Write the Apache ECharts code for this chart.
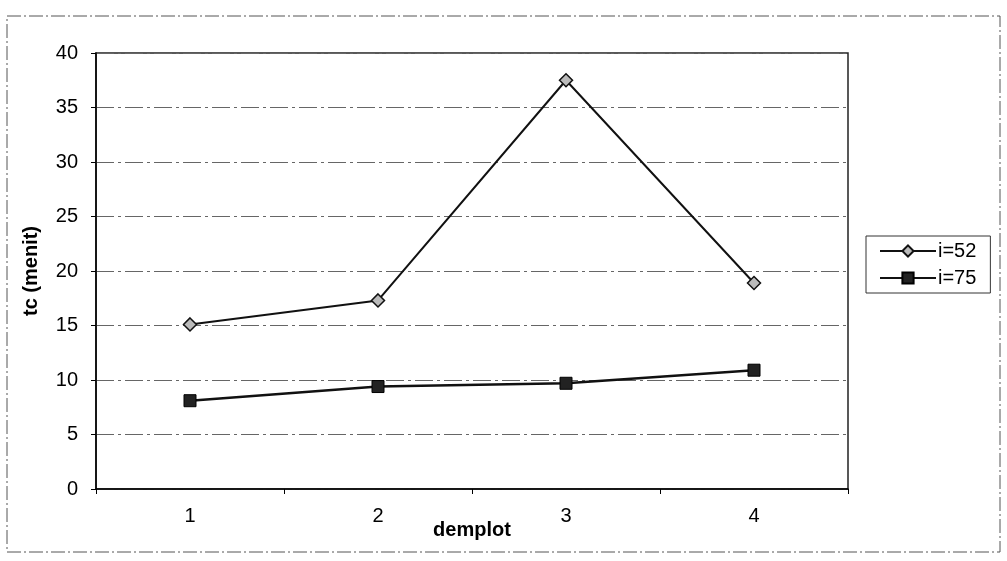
<!DOCTYPE html>
<html>
<head>
<meta charset="utf-8">
<script src="https://cdn.jsdelivr.net/npm/echarts@6/dist/echarts.min.js"></script>
<style>
  html, body { margin: 0; padding: 0; background: #fff; }
  #chart { width: 1007px; height: 561px; }
</style>
</head>
<body>
<div id="chart"></div>
<script>
// Plot categories (demplot number) and time of concentration tc (minutes)
const categories = ['1', '2', '3', '4'];
const seriesI52 = [15.1, 17.3, 37.5, 18.9];
const seriesI75 = [8.1, 9.4, 9.7, 10.9];
const yTicks = { min: 0, max: 40, interval: 5 };

const FONT = '"Liberation Sans", Arial, sans-serif';

const chart = echarts.init(document.getElementById('chart'));
chart.setOption({
  backgroundColor: '#ffffff',
  animation: false,
  textStyle: { fontFamily: FONT, color: '#000' },
  graphic: [
    {
      // outer chart frame
      type: 'rect',
      shape: { x: 7, y: 16, width: 993, height: 536 },
      style: { fill: 'none', stroke: '#555', lineWidth: 1, lineDash: [14, 3, 2, 3] },
      silent: true
    }
  ],
  grid: {
    left: 96, right: 159, top: 53, bottom: 72,
    show: true, borderColor: '#222', borderWidth: 1.5, backgroundColor: 'transparent'
  },
  legend: {
    orient: 'vertical',
    left: 866, top: 236,
    itemWidth: 56, itemHeight: 14, itemGap: 7,
    padding: [5, 14, 5, 13],
    borderColor: '#333', borderWidth: 1,
    textStyle: { fontFamily: FONT, fontSize: 20, color: '#000', padding: [0, 0, 0, -3] },
    data: ['i=52', 'i=75']
  },
  xAxis: {
    type: 'category',
    data: categories,
    boundaryGap: true,
    axisLine: { lineStyle: { color: '#000', width: 1.5 } },
    axisTick: { show: true, length: 5, lineStyle: { color: '#000' } },
    axisLabel: { fontFamily: FONT, fontSize: 20, color: '#000', margin: 17 },
    name: 'demplot',
    nameLocation: 'middle',
    nameGap: 31,
    nameMoveOverlap: false,
    nameTextStyle: { fontFamily: FONT, fontSize: 20, fontWeight: 'bold', color: '#000' },
    splitLine: { show: false }
  },
  yAxis: {
    type: 'value',
    min: yTicks.min, max: yTicks.max, interval: yTicks.interval,
    axisLine: { show: true, lineStyle: { color: '#000', width: 1.5 } },
    axisTick: { show: true, length: 5, lineStyle: { color: '#000' } },
    axisLabel: { fontFamily: FONT, fontSize: 20, color: '#000', margin: 18 },
    splitLine: { show: true, lineStyle: { color: '#666', width: 1, type: [18, 4, 3, 4] } },
    name: 'tc (menit)',
    nameLocation: 'middle',
    nameGap: 55,
    nameMoveOverlap: false,
    nameRotate: 90,
    nameTextStyle: { fontFamily: FONT, fontSize: 20, fontWeight: 'bold', color: '#000' }
  },
  series: [
    {
      name: 'i=52',
      type: 'line',
      data: seriesI52,
      symbol: 'diamond',
      symbolSize: 13,
      lineStyle: { color: '#111', width: 2 },
      itemStyle: { color: '#bbb', borderColor: '#111', borderWidth: 1.5 }
    },
    {
      name: 'i=75',
      type: 'line',
      data: seriesI75,
      symbol: 'rect',
      symbolSize: 12,
      lineStyle: { color: '#111', width: 2.5 },
      itemStyle: { color: '#222', borderColor: '#000', borderWidth: 1 }
    }
  ]
});
</script>
</body>
</html>
